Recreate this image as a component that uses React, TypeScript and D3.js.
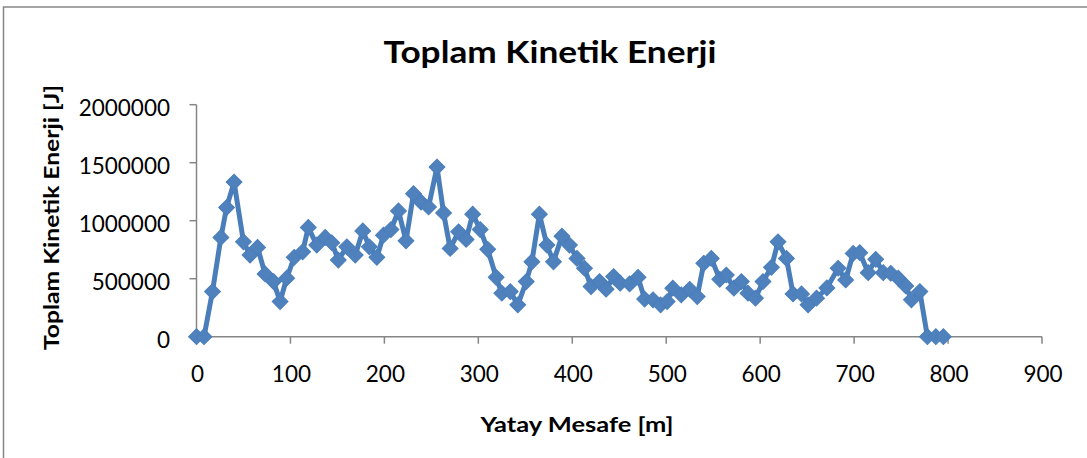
import React from "react";
import * as d3 from "d3";

const distances = [
  0, 8, 17, 26, 32, 40, 50, 57, 65, 73, 82, 89, 96, 104, 113, 119, 128, 137, 144, 151,
  160, 169, 177, 184, 192, 199, 207, 215, 223, 231, 239, 247, 256, 263, 270, 279, 287, 294, 302, 310,
  319, 325, 334, 342, 351, 357, 365, 373, 380, 389, 397, 405, 413, 420, 429, 436, 444, 451, 461, 470,
  477, 486, 494, 501, 507, 516, 525, 533, 540, 548, 557, 564, 572, 580, 587, 595, 603, 612, 619, 628,
  635, 644, 651, 660, 671, 683, 691, 699, 706, 715, 723, 731, 739, 747, 755, 761, 770, 778, 787, 795,
];

const energies = [
  0, 0, 389000, 856000, 1113000, 1333000, 818000, 704000, 770000, 541000, 475000, 303000, 504000, 684000, 732000, 942000, 790000, 856000, 810000, 661000,
  775000, 704000, 912000, 775000, 684000, 875000, 924000, 1084000, 827000, 1233000, 1161000, 1118000, 1462000, 1067000, 761000, 904000, 839000, 1056000, 924000, 753000,
  512000, 375000, 389000, 275000, 475000, 646000, 1056000, 790000, 646000, 867000, 790000, 675000, 590000, 432000, 475000, 409000, 518000, 461000, 455000, 512000,
  324000, 318000, 275000, 303000, 418000, 361000, 409000, 346000, 633000, 675000, 495000, 532000, 418000, 475000, 375000, 332000, 475000, 598000, 818000, 675000,
  369000, 369000, 275000, 332000, 420000, 590000, 489000, 718000, 724000, 552000, 667000, 552000, 547000, 504000, 438000, 318000, 389000, 0, 0, 0,
];

const xTicks = [0, 100, 200, 300, 400, 500, 600, 700, 800, 900];
const yTicks = [0, 500000, 1000000, 1500000, 2000000];

const title = "Toplam Kinetik Enerji";
const xTitle = "Yatay Mesafe [m]";
const yTitle = "Toplam  Kinetik Enerji [J]";

const W = 1087;
const H = 458;
const FONT = "Lato, 'Open Sans', 'DejaVu Sans', sans-serif";
const AXIS = "#868686";
const LINE = "#4A7EBB";
const MARK = "#4F81BD";

export default function App() {
  const x = d3.scaleLinear().domain([0, 900]).range([196.5, 1042]);
  const y = d3.scaleLinear().domain([0, 2000000]).range([336.7, 104.7]);
  const pts = distances.map((d, i) => [d, energies[i]] as [number, number]);
  const line = d3
    .line<[number, number]>()
    .x((d) => x(d[0]))
    .y((d) => y(d[1]));
  const diamond = d3.symbol(d3.symbolSquare, 125)() as string;

  return (
    <svg
      width={W}
      height={H}
      style={{ position: "absolute", left: 0, top: 0, background: "#fff" }}
    >
      <rect x={0} y={0} width={W} height={H} fill="#fff" />
      <rect x={3.5} y={7} width={W + 20} height={H + 20} fill="none" stroke={AXIS} strokeWidth={1.5} />

      <text
        x={550}
        y={63.3}
        textAnchor="middle"
        fontFamily={FONT}
        fontWeight="bold"
        fontSize={30}
        textLength={333}
        lengthAdjust="spacingAndGlyphs"
        fill="#000"
      >
        {title}
      </text>

      {/* y axis */}
      <line x1={x(0)} x2={x(0)} y1={y(0)} y2={y(2000000)} stroke={AXIS} strokeWidth={1.5} />
      {yTicks.map((t) => (
        <g key={"y" + t}>
          <line x1={x(0) - 7} x2={x(0)} y1={y(t)} y2={y(t)} stroke={AXIS} strokeWidth={1.5} />
          <text
            x={170}
            y={y(t) + 11}
            textAnchor="end"
            fontFamily={FONT}
            fontSize={22.5}
            fill="#000"
          >
            {t}
          </text>
        </g>
      ))}

      {/* x axis */}
      <line x1={x(0)} x2={x(900)} y1={y(0)} y2={y(0)} stroke={AXIS} strokeWidth={1.5} />
      {xTicks.map((t) => (
        <g key={"x" + t}>
          <line x1={x(t)} x2={x(t)} y1={y(0)} y2={y(0) + 7} stroke={AXIS} strokeWidth={1.5} />
          <text
            x={x(t) + 1}
            y={382}
            textAnchor="middle"
            fontFamily={FONT}
            fontSize={22.5}
            fill="#000"
          >
            {t}
          </text>
        </g>
      ))}

      <text
        x={577}
        y={431.7}
        textAnchor="middle"
        fontFamily={FONT}
        fontWeight="bold"
        fontSize={21}
        textLength={193}
        lengthAdjust="spacingAndGlyphs"
        fill="#000"
      >
        {xTitle}
      </text>

      <text
        transform={`translate(58.5,217.5) rotate(-90)`}
        textAnchor="middle"
        fontFamily={FONT}
        fontWeight="bold"
        fontSize={21}
        textLength={265}
        lengthAdjust="spacingAndGlyphs"
        fill="#000"
      >
        {yTitle}
      </text>

      <path d={line(pts) as string} fill="none" stroke={LINE} strokeWidth={5} strokeLinejoin="round" />
      {pts.map((p, i) => (
        <path
          key={i}
          d={diamond}
          transform={`translate(${x(p[0])},${y(p[1])}) rotate(45)`}
          fill={MARK}
          stroke={LINE}
          strokeWidth={1}
        />
      ))}
    </svg>
  );
}
